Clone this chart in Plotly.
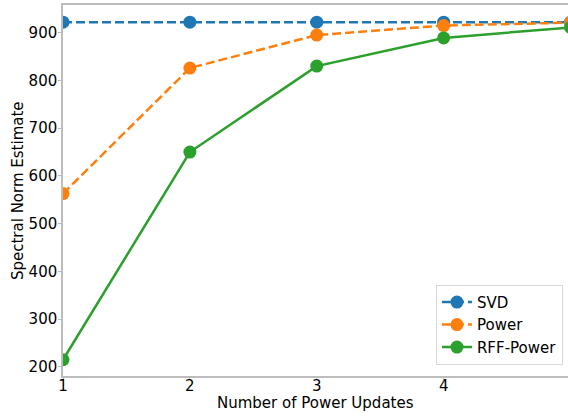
import plotly.graph_objects as go

updates = [1, 2, 3, 4, 5]
svd = [922, 922, 922, 922, 922]
power = [563, 826, 895, 915, 921]
rff_power = [215, 650, 830, 889, 911]

colors = {"SVD": "#1f77b4", "Power": "#ff7f0e", "RFF-Power": "#2ca02c"}

fig = go.Figure()
for name, vals, dash in [("SVD", svd, "9px,4px"), ("Power", power, "9px,4px"), ("RFF-Power", rff_power, "solid")]:
    fig.add_trace(go.Scatter(
        x=updates, y=vals, name=name, mode="lines+markers",
        line=dict(color=colors[name], width=2.5, dash=dash),
        marker=dict(color=colors[name], size=13),
        cliponaxis=True,
    ))

axis_font = dict(family="DejaVu Sans", size=15, color="black")
fig.update_layout(
    width=568, height=416,
    margin=dict(l=63, r=0, t=5, b=40, autoexpand=False),
    plot_bgcolor="white", paper_bgcolor="white",
    font=axis_font,
    showlegend=True,
    legend=dict(
        x=0.99, y=0.03, xanchor="right", yanchor="bottom",
        bgcolor="rgba(255,255,255,0.8)", bordercolor="#d9d9d9", borderwidth=1,
        font=dict(family="DejaVu Sans", size=15, color="black"),
        tracegroupgap=2,
    ),
    xaxis=dict(
        range=[1, 4.98], tickvals=[1, 2, 3, 4], ticktext=["1", "2", "3", "4"],
        showgrid=False, zeroline=False, showline=True, linecolor="#bdbdbd", linewidth=1.5,
        mirror=True, ticks="outside", ticklen=2, tickcolor="#bdbdbd",
        ticklabelstandoff=-7,
        tickfont=axis_font,
    ),
    yaxis=dict(
        range=[181, 958], tickvals=[200, 300, 400, 500, 600, 700, 800, 900],
        showgrid=False, zeroline=False, showline=True, linecolor="#bdbdbd", linewidth=1.5,
        mirror=True, ticks="outside", ticklen=3, tickcolor="#bdbdbd",
        ticklabelstandoff=-2,
        tickfont=axis_font,
    ),
    annotations=[
        dict(text="Number of Power Updates", xref="paper", yref="paper",
             x=0.5, y=-0.072, xanchor="center", yanchor="middle",
             showarrow=False, font=axis_font),
        dict(text="Spectral Norm Estimate", xref="paper", yref="paper",
             x=-0.09, y=0.5, xanchor="center", yanchor="middle", textangle=-90,
             showarrow=False, font=axis_font),
    ],
)

fig.write_html("out.html")
